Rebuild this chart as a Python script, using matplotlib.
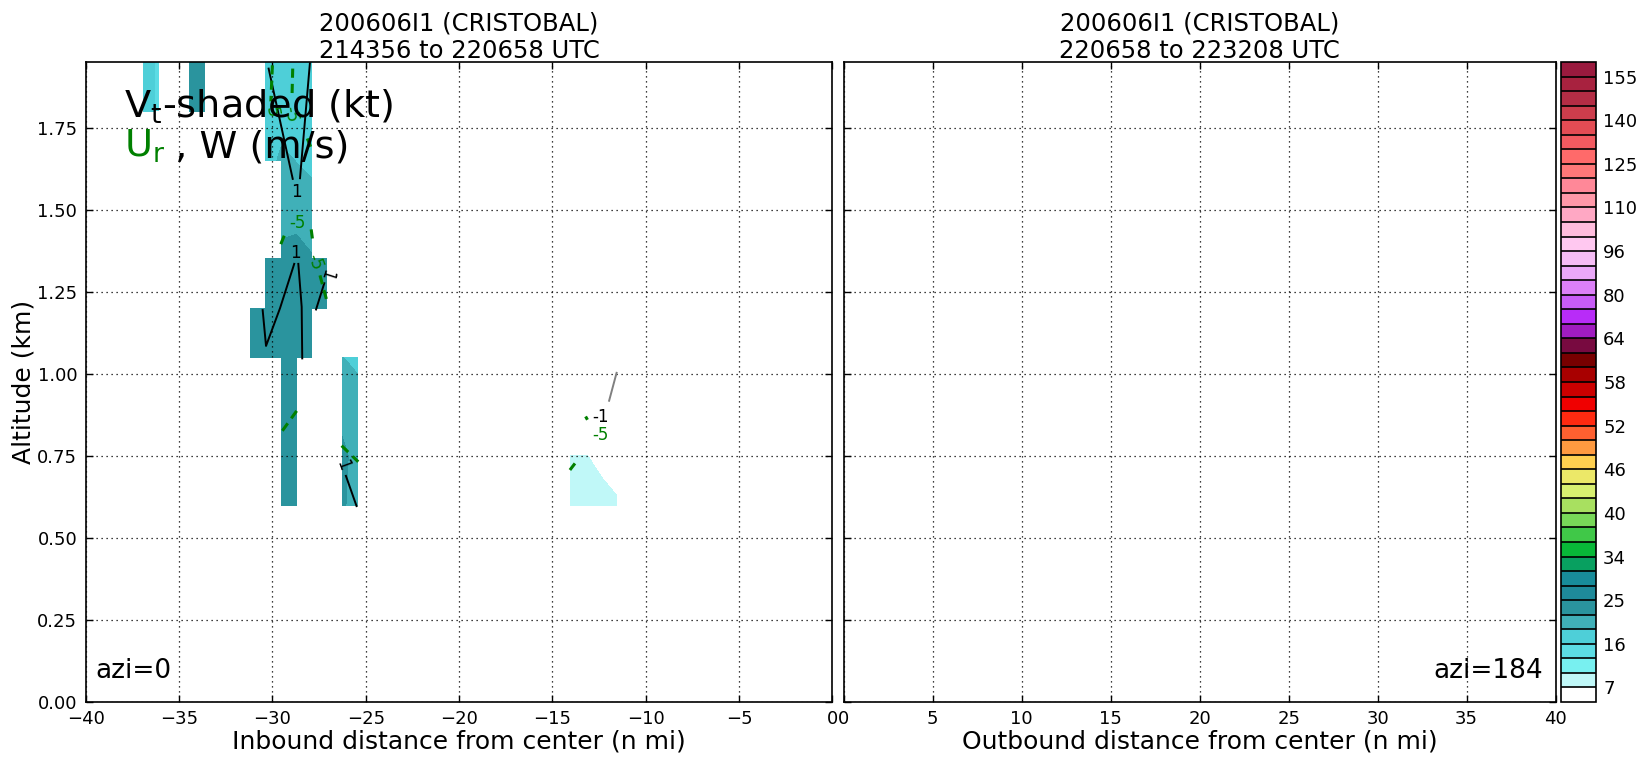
import numpy as np
import matplotlib
matplotlib.use("Agg")
import matplotlib.pyplot as plt

# grid of the leg: inbound distance (n mi) and altitude (km)
dist_nmi = np.linspace(-36.88, -11.56, 32)
alt_km = [0.60, 0.75, 0.90, 1.05, 1.20, 1.35, 1.50, 1.65, 1.80, 1.95]

# tangential wind (kt) at the few grid nodes that have data
vt_row = ([0] * 8 + [1] * 8 + [2] * 4 + [3] * 7 + [4] * 6 + [5] * 5 + [6] * 3
          + [7] * 4 + [8] * 8 + [9] * 8)
vt_col = [9, 10, 13, 14, 28, 29, 30, 31,
          9, 10, 13, 14, 28, 29, 30, 31,
          9, 10, 13, 14,
          7, 8, 9, 10, 11, 13, 14,
          7, 8, 9, 10, 11, 12,
          8, 9, 10, 11, 12,
          9, 10, 11,
          8, 9, 10, 11,
          0, 1, 3, 4, 8, 9, 10, 11,
          0, 1, 3, 4, 8, 9, 10, 11]
vt_val = [23.5, 23.5, 22.5, 20.5, 8.0, 8.0, 9.0, 7.5,
          23.5, 23.5, 23.0, 20.5, 7.5, 7.2, 5.5, 5.0,
          23.5, 23.5, 20.5, 21.0,
          24.0, 23.5, 23.5, 23.5, 23.5, 19.1, 18.0,
          24.0, 23.5, 23.5, 23.0, 23.0, 23.0,
          23.0, 23.0, 23.0, 22.2, 23.0,
          20.5, 21.0, 20.5,
          17.0, 19.8, 18.9, 18.2,
          17.0, 15.5, 23.0, 23.5, 17.0, 17.0, 17.5, 17.5,
          17.0, 15.5, 23.0, 23.5, 17.0, 17.5, 17.5, 17.0]

# shading levels (kt) and colours
vt_levels = [0, 7, 10, 13, 16, 19, 22, 25, 28, 31, 34,
             36, 38, 40, 42, 44, 46, 48, 50, 52, 54, 56, 58,
             60, 62, 64, 69, 74, 80, 85, 90, 96, 101, 106, 110,
             115, 120, 125, 130, 135, 140, 145, 150, 155, 160]
vt_colors = ['#ffffff', '#c0f8f8', '#78f0f0', '#5cdce4', '#4ecfd8', '#40b0b8',
             '#2a949e', '#1e8a9a', '#188c9a', '#08a060', '#08b838', '#40c848',
             '#78d858', '#a8e060', '#d8f070', '#ece868', '#ffd050', '#ff9a40',
             '#ff6030', '#ff2a10', '#f00000', '#cc0000', '#a80000', '#780000',
             '#780a40', '#a01cc0', '#b82cf8', '#c85cf8', '#dc80f8', '#eaa8f8',
             '#f5bcf5', '#ffc8f0', '#ffbcdc', '#ffa8c4', '#ff98a8', '#ff8898',
             '#ff7878', '#ff6a6a', '#f25a60', '#e34c54', '#cc3d4c', '#b42d45',
             '#a8223f', '#9a1a3e']
cbar_ticks = [7, 16, 25, 34, 40, 46, 52, 58, 64, 80, 96, 110, 125, 140, 155]

# vertical velocity contours (m/s), traced off the leg
w_pos_x = [[-30.20, -28.91], [-27.99, -28.52],
           [-28.83, -29.59, -30.34, -30.52], [-28.61, -28.43, -28.40],
           [-27.22, -27.66], [-26.06, -25.49]]
w_pos_z = [[1.930, 1.594], [1.946, 1.596],
           [1.335, 1.200, 1.085, 1.194], [1.335, 1.204, 1.047],
           [1.276, 1.196], [0.689, 0.597]]
w_lab_x = [-28.70, -28.74, -27.09, -26.24]
w_lab_z = [1.555, 1.367, 1.301, 0.722]
w_lab_rot = [0, 0, -108, -70]
w_neg_x = [-11.56, -11.96]
w_neg_z = [1.003, 0.918]
w_neg_lab = (-12.41, 0.869)

# radial wind contours (m/s)
ur_x = [[-30.00, -30.08], [-28.91, -28.95], [-28.13, -27.95],
        [-29.55, -29.30], [-27.92, -27.85], [-27.45, -27.07],
        [-28.70, -29.47], [-26.29, -25.40], [-14.06, -13.79],
        [-13.22, -13.12]]
ur_z = [[1.940, 1.830], [1.930, 1.840], [1.717, 1.692],
        [1.395, 1.430], [1.440, 1.410], [1.300, 1.220],
        [0.887, 0.826], [0.781, 0.732], [0.707, 0.727],
        [0.870, 0.860]]
ur_lab_x = [-30.05, -29.04, -28.66, -27.72, -12.40]
ur_lab_z = [1.805, 1.792, 1.459, 1.342, 0.814]
ur_lab_rot = [-80, -80, 0, -70, 0]

# build the masked field
vt = np.full((len(alt_km), len(dist_nmi)), np.nan)
for r, c, v in zip(vt_row, vt_col, vt_val):
    vt[r, c] = v
vt = np.ma.masked_invalid(vt)

fig = plt.figure(figsize=(16.45, 7.62), dpi=100)
ax1 = fig.add_axes([0.0521, 0.0787, 0.4539, 0.8399])
ax2 = fig.add_axes([0.5129, 0.0787, 0.4328, 0.8399])
cax = fig.add_axes([0.9488, 0.0787, 0.0215, 0.8399])

cf = ax1.contourf(dist_nmi, alt_km, vt, levels=vt_levels, colors=vt_colors,
                  corner_mask=False, antialiased=False)

for xs, zs in zip(w_pos_x, w_pos_z):
    ax1.plot(xs, zs, color='black', lw=1.4)
ax1.plot(w_neg_x, w_neg_z, color='gray', lw=1.4)
for x, z, rot in zip(w_lab_x, w_lab_z, w_lab_rot):
    ax1.text(x, z, '1', fontsize=12, rotation=rot, ha='center', va='center')
ax1.text(w_neg_lab[0], w_neg_lab[1], '-1', fontsize=12, ha='center', va='center')

for xs, zs in zip(ur_x, ur_z):
    ax1.plot(xs, zs, color='green', lw=2.2, ls=(0, (3, 2)))
for x, z, rot in zip(ur_lab_x, ur_lab_z, ur_lab_rot):
    ax1.text(x, z, '-5', fontsize=12, color='green', rotation=rot,
             ha='center', va='center')

# titles and labels
ax1.set_title('200606I1 (CRISTOBAL)\n214356 to 220658 UTC', fontsize=17.5,
              linespacing=1.2, pad=3)
ax2.set_title('200606I1 (CRISTOBAL)\n220658 to 223208 UTC', fontsize=17.5,
              linespacing=1.2, pad=3)
ax1.set_xlabel('Inbound distance from center (n mi)', fontsize=18, labelpad=1)
ax2.set_xlabel('Outbound distance from center (n mi)', fontsize=18, labelpad=1)
ax1.set_ylabel('Altitude (km)', fontsize=18, labelpad=1)

ax1.text(0.0513, 0.913, r'V$_{\rm t}$-shaded (kt)', transform=ax1.transAxes,
         fontsize=27.5, va='baseline')
ax1.text(0.0513, 0.8516, r'U$_{\rm r}$', transform=ax1.transAxes,
         fontsize=27.5, va='baseline', color='green')
ax1.text(0.1035, 0.8516, ' , W (m/s)', transform=ax1.transAxes,
         fontsize=27.5, va='baseline')
ax1.text(0.0125, 0.037, 'azi=0', transform=ax1.transAxes, fontsize=19,
         va='baseline')
ax2.text(0.9826, 0.037, 'azi=184', transform=ax2.transAxes, fontsize=19,
         va='baseline', ha='right')

for ax in (ax1, ax2):
    ax.set_ylim(0, 1.95)
    ax.set_yticks(np.arange(0, 1.76, 0.25))
    ax.grid(True, color='black', ls=(0, (1, 3)), lw=0.9)
    ax.tick_params(direction='in', top=True, right=True, length=5, width=1,
                   labelsize=13)
    ax.tick_params(axis='x', pad=6)
    ax.tick_params(axis='y', pad=6)
    for sp in ax.spines.values():
        sp.set_linewidth(1.2)

ax1.set_xlim(-40, 0)
ax1.set_xticks(np.arange(-40, 1, 5))
ax1.yaxis.set_major_formatter(matplotlib.ticker.FormatStrFormatter('%.2f'))
ax2.set_xlim(0, 40)
ax2.set_xticks(np.arange(0, 41, 5))
ax2.tick_params(labelleft=False)

cb = fig.colorbar(cf, cax=cax, ticks=cbar_ticks, drawedges=True)
cb.ax.tick_params(length=0, labelsize=13, pad=5)
cb.dividers.set_linewidth(1.2)
cb.outline.set_linewidth(1.2)

fig.savefig('out.png', dpi=100)
